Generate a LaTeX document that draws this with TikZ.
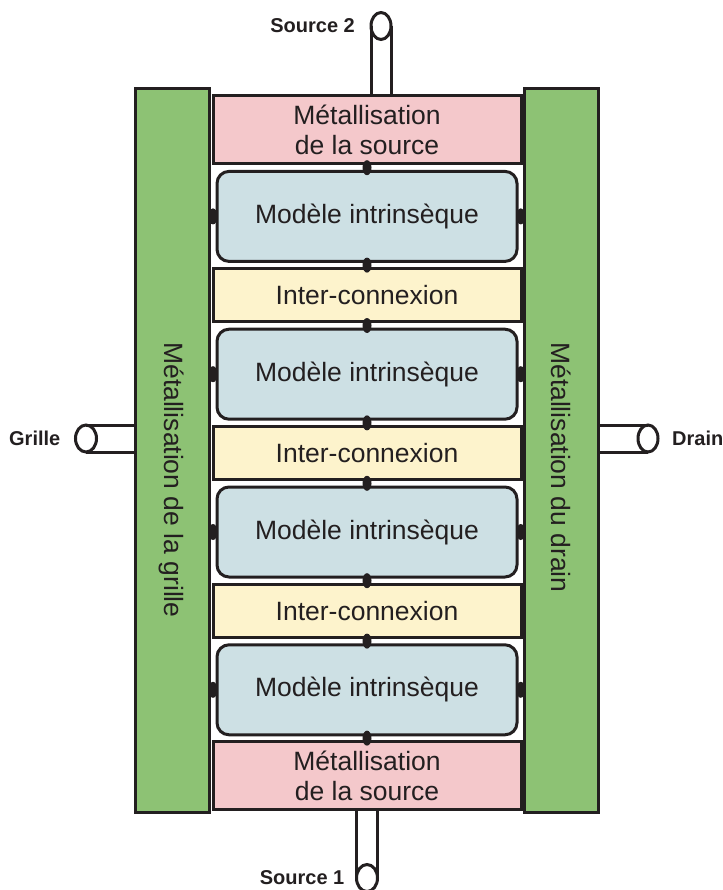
\documentclass[tikz,border=0pt]{standalone}
\usepackage{fontspec}
\setmainfont{Liberation Sans}
\usetikzlibrary{positioning, shapes.geometric}

\definecolor{ink}{RGB}{35,31,32}
\definecolor{metal}{RGB}{244,200,203}
\definecolor{barfill}{RGB}{141,194,116}
\definecolor{core}{RGB}{205,224,228}
\definecolor{wire}{RGB}{253,243,204}

\tikzset{
  box/.style={draw=ink, line width=3pt, rectangle, outer sep=0pt, inner sep=0pt,
    text=ink, font=\fontsize{26.5}{30}\selectfont, align=center},
  metalbox/.style={box, fill=metal, minimum width=308pt, minimum height=68pt},
  corebox/.style={box, fill=core, rounded corners=12pt, minimum width=300pt, minimum height=90pt},
  wirebox/.style={box, fill=wire, minimum width=308pt, minimum height=53pt},
  barbox/.style={box, fill=barfill, minimum width=74pt, minimum height=723pt},
  barlabel/.style={text=ink, font=\fontsize{26.5}{30}\selectfont, rotate=-90, inner sep=0pt},
  junc/.style={ellipse, fill=ink, inner sep=0pt, minimum width=9pt, minimum height=15pt},
  sidejunc/.style={ellipse, fill=ink, inner sep=0pt, minimum width=9pt, minimum height=16pt},
  port/.style={ellipse, draw=ink, fill=white, line width=3pt, inner sep=0pt, outer sep=0pt},
  tube/.style={draw=ink, line width=3pt},
  portlabel/.style={text=ink, font=\fontsize{20}{24}\selectfont\bfseries, inner sep=0pt},
}

\begin{document}
\begin{tikzpicture}[x=1pt, y=-1pt]
  \useasboundingbox (0,0) rectangle (722,890);

  % grille and drain metallisation
  \node[barbox] (gate) at (172,450.5) {};
  \node[barbox] (drain) at (561.5,450.5) {};
  \node[barlabel, anchor=west] (gateTxt) at (172,342) {Métallisation de la grille};
  \node[barlabel, anchor=west] (drainTxt) at (561.5,342) {Métallisation du drain};

  % source metallisation, top and bottom
  \node[metalbox] (srcTop) at (367,130) {Métallisation\\de la source};
  \node[metalbox] (srcBot) at (367,775.5) {Métallisation\\de la source};

  % stack of cells
  \foreach \i/\y in {1/216.4, 2/374.2, 3/532, 4/689.8}
    \node[corebox] (core\i) at (367,\y) {Modèle intrinsèque};
  \foreach \i/\y in {1/295.3, 2/453.1, 3/610.9}
    \node[wirebox] (ic\i) at (367,\y) {Inter-connexion};

  % junctions
  \foreach \a/\b in {srcTop/core1, core1/ic1, ic1/core2, core2/ic2,
                     ic2/core3, core3/ic3, ic3/core4, core4/srcBot}
    \path (\a.south) -- (\b.north) node[junc, midway] {};
  \foreach \i in {1,...,4} {
    \path (core\i.west) -- (core\i.west -| gate.east) node[sidejunc, midway] {};
    \path (core\i.east) -- (core\i.east -| drain.west) node[sidejunc, midway] {};
  }

  % access ports
  \node[port, minimum width=20pt, minimum height=27pt] (s2) at (381,26) {};
  \node[port, minimum width=21pt, minimum height=27pt] (s1) at (367,878) {};
  \node[port, minimum width=21pt, minimum height=27pt] (g) at (86,438.5) {};
  \node[port, minimum width=20pt, minimum height=27pt] (d) at (648,438.5) {};

  \draw[tube] (s2.west) -- (s2.west |- srcTop.north);
  \draw[tube] (s2.east) -- (s2.east |- srcTop.north);
  \draw[tube] (s1.west) -- (s1.west |- srcBot.south);
  \draw[tube] (s1.east) -- (s1.east |- srcBot.south);
  \draw[tube] (g.north) -- (g.north -| gate.west);
  \draw[tube] (g.south) -- (g.south -| gate.west);
  \draw[tube] (d.north) -- (d.north -| drain.east);
  \draw[tube] (d.south) -- (d.south -| drain.east);

  \node[portlabel, left=16pt of s2] (s2Lbl) {Source 2};
  \node[portlabel, left=12pt of s1] (s1Lbl) {Source 1};
  \node[portlabel, left=15pt of g] (gLbl) {Grille};
  \node[portlabel, right=14pt of d] (dLbl) {Drain};
\end{tikzpicture}
\end{document}
